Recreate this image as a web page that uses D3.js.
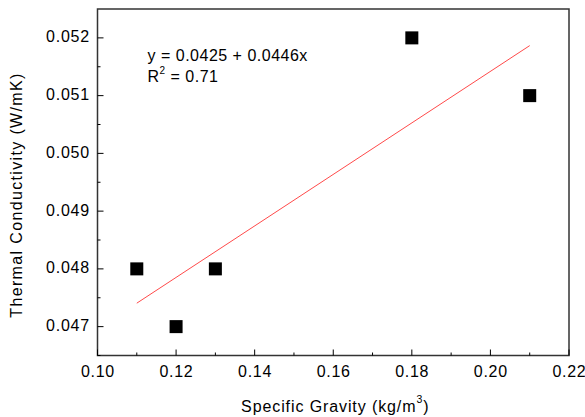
<!DOCTYPE html>
<html><head><meta charset="utf-8">
<script src="https://cdn.jsdelivr.net/npm/d3@7"></script>
<style>body{margin:0;background:#fff;}svg{display:block;font-family:"Liberation Sans",Arial,sans-serif;}</style>
</head><body>
<svg id="c" width="585" height="417"></svg>
<script>
const specificGravity = [0.11, 0.12, 0.13, 0.18, 0.21];
const conductivity = [0.048, 0.047, 0.048, 0.052, 0.051];
const xTicks = [0.10, 0.12, 0.14, 0.16, 0.18, 0.20, 0.22];
const yTicks = [0.047, 0.048, 0.049, 0.050, 0.051, 0.052];
const fitIntercept = 0.0425, fitSlope = 0.0446;
const fitRange = [0.11, 0.21];

const svg = d3.select("#c");
const L = 97.5, R = 569, T = 9, B = 355.5;
const x = d3.scaleLinear().domain([0.10, 0.22]).range([L, R]);
const y = d3.scaleLinear().domain([0.0465, 0.0525]).range([B, T]);

// frame
svg.append("rect").attr("x", L).attr("y", T).attr("width", R - L).attr("height", B - T)
  .attr("fill", "none").attr("stroke", "#333").attr("stroke-width", 1.5);

// x axis
const xMinor = d3.range(0.11, 0.22, 0.02);
const xAx = svg.append("g").attr("transform", `translate(0,${B})`);
xAx.selectAll(".maj").data(xTicks).join("line").attr("class","maj").attr("x1", d => x(d)).attr("x2", d => x(d))
  .attr("y1", 0).attr("y2", -6).attr("stroke", "#000").attr("stroke-width", 1);
xAx.selectAll(".min").data(xMinor).join("line").attr("class","min").attr("x1", d => x(d)).attr("x2", d => x(d))
  .attr("y1", 0).attr("y2", -3).attr("stroke", "#000").attr("stroke-width", 1);
xAx.selectAll("text").data(xTicks).join("text").attr("x", d => x(d) + 0.4).attr("y", 21)
  .attr("text-anchor", "middle").attr("font-size", 16).attr("letter-spacing", 0.7)
  .attr("fill", "#000").text(d => d3.format(".2f")(d));

// y axis
const yMinor = d3.range(0.0465, 0.0525, 0.001).map(v => +v.toFixed(4));
const yAx = svg.append("g").attr("transform", `translate(${L},0)`);
yAx.selectAll(".maj").data(yTicks).join("line").attr("class","maj").attr("y1", d => y(d)).attr("y2", d => y(d))
  .attr("x1", 0).attr("x2", 6).attr("stroke", "#000").attr("stroke-width", 1);
yAx.selectAll(".min").data(yMinor).join("line").attr("class","min").attr("y1", d => y(d)).attr("y2", d => y(d))
  .attr("x1", 0).attr("x2", 3).attr("stroke", "#000").attr("stroke-width", 1);
yAx.selectAll("text").data(yTicks).join("text").attr("x", -7.5).attr("y", d => y(d) + 4.6)
  .attr("text-anchor", "end").attr("font-size", 16).attr("letter-spacing", 0.8)
  .attr("fill", "#000").text(d => d3.format(".3f")(d));

// axis titles
const xt = svg.append("text").attr("x", (L + R) / 2 + 2).attr("y", 412).attr("text-anchor", "middle")
  .attr("font-size", 16).attr("letter-spacing", 0.9).attr("fill", "#000");
xt.append("tspan").text("Specific Gravity (kg/m");
xt.append("tspan").attr("font-size", 10.5).attr("dy", -9).text("3");
xt.append("tspan").attr("dy", 9).text(")");
svg.append("text").attr("transform", `translate(22,${195}) rotate(-90)`).attr("text-anchor", "middle")
  .attr("font-size", 16).attr("letter-spacing", 1.35).attr("fill", "#000").text("Thermal Conductivity (W/mK)");

// fit line
svg.append("line").attr("x1", x(fitRange[0])).attr("y1", y(fitIntercept + fitSlope * fitRange[0]))
  .attr("x2", x(fitRange[1])).attr("y2", y(fitIntercept + fitSlope * fitRange[1]))
  .attr("stroke", "#ff4a4a").attr("stroke-width", 1);

// points
const s = 13;
svg.selectAll(".pt").data(specificGravity).join("rect").attr("class", "pt")
  .attr("x", d => x(d) - s / 2).attr("y", (d, i) => y(conductivity[i]) - s / 2)
  .attr("width", s).attr("height", s).attr("fill", "#000");

// equation
svg.append("text").attr("x", 147.5).attr("y", 61).attr("font-size", 16).attr("letter-spacing", 0.5).attr("fill", "#000")
  .text("y = 0.0425 + 0.0446x");
const r2 = svg.append("text").attr("x", 147.5).attr("y", 81.7).attr("font-size", 16).attr("letter-spacing", 0.5).attr("fill", "#000");
r2.append("tspan").text("R");
r2.append("tspan").attr("font-size", 10).attr("dy", -8).text("2");
r2.append("tspan").attr("dy", 8).text(" = 0.71");
</script>
</body></html>
